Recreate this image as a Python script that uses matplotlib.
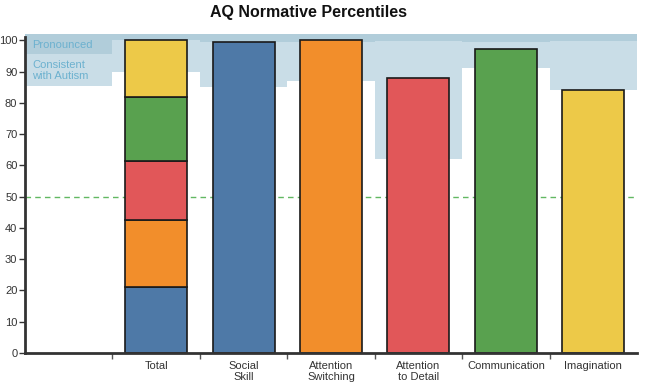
import matplotlib
matplotlib.use("Agg")
import matplotlib.pyplot as plt
from matplotlib import font_manager

names = {f.name for f in font_manager.fontManager.ttflist}
narrow = "Liberation Sans Narrow" if "Liberation Sans Narrow" in names else "Liberation Sans"
plt.rcParams['font.family'] = [narrow, 'DejaVu Sans']

# ---- data ----
categories = ["", "Total", "Social\nSkill", "Attention\nSwitching", "Attention\nto Detail",
              "Communication", "Imagination"]
subscales = ["Social Skill", "Attention Switching", "Attention to Detail", "Communication", "Imagination"]
subscale_values = [99.4, 100, 88, 97.2, 84]
total_segments = [21, 21.5, 18.8, 20.5, 18.2]
colors = ["#4e79a7", "#f28e2b", "#e15759", "#59a14f", "#edc948"]
# lower bound of the "consistent with autism" zone per category (Total..Imagination)
consistent_low = [90, 85, 87, 62, 91, 84]
pronounced_low = [100, 99.5, 99.5, 99.8, 99.6, 99.8]
legend_pronounced_low = 95.5
legend_consistent_low = 85.5
y_ticks = list(range(0, 101, 10))
ref_line = 50

light = "#c9dde7"
dark = "#b1cdda"

fig = plt.figure(figsize=(6.5, 3.84), dpi=100)
ax = fig.add_axes([25/650, 1-353/384, (637-25)/650, (353-34)/384])
ax.set_xlim(-0.5, 6.5)
ax.set_ylim(0, 102)

top = 102
# legend slot
ax.bar(0, top - legend_consistent_low, bottom=legend_consistent_low, width=1.0, color=light, zorder=1)
ax.bar(0, top - legend_pronounced_low, bottom=legend_pronounced_low, width=1.0, color=dark, zorder=1.5)
for i, (lo, plo) in enumerate(zip(consistent_low, pronounced_low), start=1):
    ax.bar(i, top - lo, bottom=lo, width=1.0, color=light, zorder=1)
    ax.bar(i, top - plo, bottom=plo, width=1.0, color=dark, zorder=1.5)

ax.text(-0.42, (legend_pronounced_low + 101.5)/2, "Pronounced", color="#6cb1cf", fontsize=8,
        va="center", ha="left", zorder=3)
ax.text(-0.42, (legend_consistent_low + legend_pronounced_low)/2 - 0.2, "Consistent\nwith Autism",
        color="#6cb1cf", fontsize=8, va="center", ha="left", zorder=3, linespacing=1.2)

# reference line
ax.axhline(ref_line, color="#62b862", lw=1.0, ls=(0, (4, 3)), zorder=2)

bw = 0.71
# stacked total
bottom = 0
for v, c in zip(total_segments, colors):
    ax.bar(1, v, bottom=bottom, width=bw, color=c, edgecolor="#1a1a1a", linewidth=1.2, zorder=4)
    bottom += v
# subscales
for i, (v, c) in enumerate(zip(subscale_values, colors), start=2):
    ax.bar(i, v, width=bw, color=c, edgecolor="#1a1a1a", linewidth=1.2, zorder=4)

for s in ["top", "right"]:
    ax.spines[s].set_visible(False)
for s in ["left", "bottom"]:
    ax.spines[s].set_linewidth(2)
    ax.spines[s].set_color("#333333")
    ax.spines[s].set_zorder(5)
ax.spines["left"].set_bounds(0, 101)

ax.set_yticks(y_ticks)
ax.set_yticklabels([str(t) for t in y_ticks], fontsize=8, color="#333333")
ax.tick_params(axis="y", length=4, width=1, color="#333333", pad=1.5)

ax.set_xticks([i + 0.5 for i in range(6)])
ax.set_xticklabels([])
ax.tick_params(axis="x", length=4, width=1, color="#555555")
ax.set_xticks(range(7), minor=True)
ax.set_xticklabels(categories, minor=True, fontsize=8, color="#333333", linespacing=1.1)
ax.tick_params(axis="x", which="minor", length=0, pad=6)

fig.text(308/650, 1-13/384, "AQ Normative Percentiles", ha="center", va="center",
         fontsize=11.5, fontweight="bold", color="#111111")

fig.savefig("out.png", dpi=100)
